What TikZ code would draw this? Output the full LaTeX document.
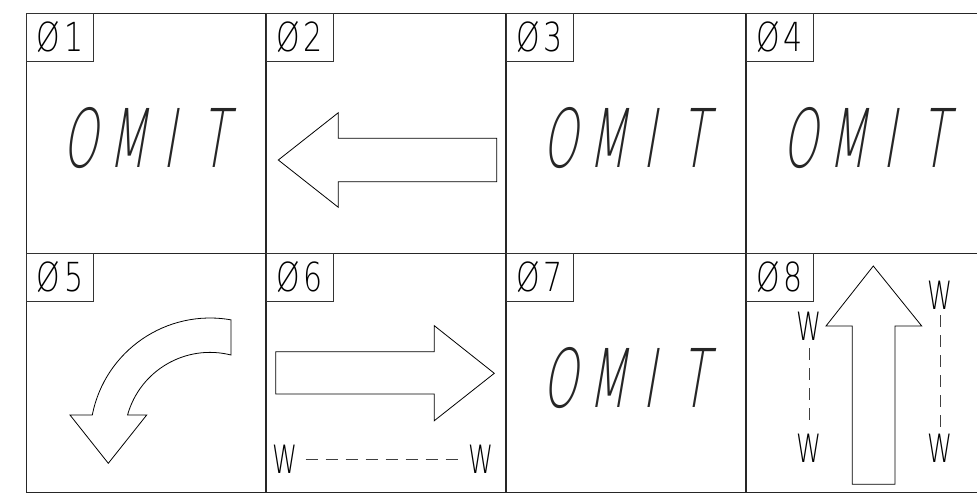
\documentclass[tikz,border=0pt]{standalone}
\usepackage{fontspec}
\newfontfamily\lblfont{DejaVuSans-ExtraLight}[Extension=.ttf, FakeStretch=0.75]
\newfontfamily\omitfont{DejaVuSans-ExtraLight}[Extension=.ttf, FakeStretch=0.55, FakeSlant=0.17]
\newfontfamily\wfont{DejaVuSans-ExtraLight}[Extension=.ttf, FakeStretch=0.65]
\begin{document}
\begin{tikzpicture}[x=1pt,y=-1pt,
  gridline/.style={line width=1.3pt, black!85},
  lblbox/.style={draw=black!80, line width=0.9pt, anchor=north west, minimum width=67pt, minimum height=48pt, inner sep=0pt, outer sep=0pt, font=\lblfont\fontsize{40}{42}\selectfont},
  omittext/.style={inner sep=0pt, text=black!85, font=\omitfont\fontsize{81}{90}\selectfont},
  wtext/.style={inner sep=0pt, font=\wfont\fontsize{39}{42}\selectfont},
  arrowshape/.style={draw=black, line width=0.8pt, line join=miter},
  wdash/.style={draw=black!75, line width=0.9pt, dash pattern=on 12pt off 8pt}]
\useasboundingbox (0,0) rectangle (977,501);
% grid
\foreach \yy in {13.3,253.3,492.7} \draw[gridline] (26.3,\yy) -- (977,\yy);
\foreach \xx in {26.3,266,506,746} \draw[gridline] (\xx,13.3) -- (\xx,492.7);
% label boxes
\node[lblbox] (l1) at (26.3,13.3) {Ø\kern4pt 1};
\node[lblbox] (l2) at (266,13.3) {Ø\kern4pt 2};
\node[lblbox] (l3) at (506,13.3) {Ø\kern4pt 3};
\node[lblbox] (l4) at (746,13.3) {Ø\kern4pt 4};
\node[lblbox] (l5) at (26.3,253.3) {Ø\kern4pt 5};
\node[lblbox] (l6) at (266,253.3) {Ø\kern4pt 6};
\node[lblbox] (l7) at (506,253.3) {Ø\kern4pt 7};
\node[lblbox] (l8) at (746,253.3) {Ø\kern4pt 8};
% OMIT texts
\node[omittext] (o1) at (145.3,138.3) {O\kern11pt M\kern15.5pt I\kern25pt T};
\node[omittext] (o3) at (625,138.3) {O\kern11pt M\kern15.5pt I\kern25pt T};
\node[omittext] (o4) at (865,138.3) {O\kern11pt M\kern15.5pt I\kern25pt T};
\node[omittext] (o7) at (625,378.3) {O\kern11pt M\kern15.5pt I\kern25pt T};
% cell 2: left arrow
\draw[arrowshape] (278.3,160) -- (338.3,112.7) -- (338.3,138.3) -- (496.7,138.3) -- (496.7,181.7) -- (338.3,181.7) -- (338.3,207.3) -- cycle;
% cell 5: curved arrow
\draw[arrowshape] (70,415) -- (92.3,415) arc[start angle=191.06, end angle=280, radius=120]
  -- (231,355) arc[start angle=284.2, end angle=195.6, radius=85.6]
  -- (146.7,415) -- (108.3,463.3) -- cycle;
% cell 6: right arrow
\draw[arrowshape] (494.3,373.3) -- (434.3,325.7) -- (434.3,351.7) -- (275.7,351.7) -- (275.7,394) -- (434.3,394) -- (434.3,420.7) -- cycle;
\node[wtext] (w61) at (285,459.7) {W};
\node[wtext] (w62) at (480.7,459.7) {W};
\draw[wdash, shorten <=8pt, shorten >=3pt] (w61.east) -- (w62.west);
% cell 8: up arrow
\draw[arrowshape] (873.3,266) -- (921.7,326) -- (895,326) -- (895,484.3) -- (852.3,484.3) -- (852.3,326) -- (826,326) -- cycle;
\node[wtext] (w81) at (809,326.7) {W};
\node[wtext] (w82) at (809,448) {W};
\node[wtext] (w83) at (940,295.5) {W};
\node[wtext] (w84) at (940,448) {W};
\draw[wdash, shorten <=7pt, shorten >=9pt] (w81.south) -- (w82.north);
\draw[wdash, shorten <=5.5pt, shorten >=2pt] (w83.south) -- (w84.north);
\end{tikzpicture}
\end{document}
